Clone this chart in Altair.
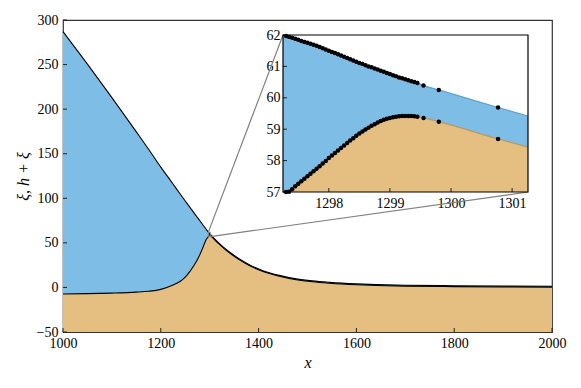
import altair as alt
import pandas as pd

# ---------------- data ----------------
x_main = [1000, 1050, 1100, 1150, 1175, 1200, 1225, 1240, 1250, 1260, 1270, 1280,
          1287, 1293, 1297.3, 1299.3, 1301.2, 1310, 1320, 1330, 1341, 1360, 1380,
          1409, 1440, 1477, 1510, 1545, 1600, 1641, 1700, 1800, 1900, 2000]
top_main = [287, 250.5, 213, 174.5, 155, 135, 116, 104.5, 97, 89.5, 82, 74.8,
            69.5, 65.2, 61.97, 60.56, 59.45, 54.5, 49.2, 44.3, 39.5, 32.2, 25.8,
            18.8, 13.8, 9.6, 7.3, 5.7, 4.0, 3.2, 2.5, 1.9, 1.5, 1.3]
bot_main = [-7.3, -7.0, -6.4, -5.3, -4.3, -2.2, 2.7, 7.0, 11.5, 18.3, 26.5, 37,
            46, 54, 57.0, 59.42, 58.45, 53.5, 48.2, 43.3, 38.5, 31.2, 24.8,
            17.8, 12.8, 8.6, 6.3, 4.7, 3.0, 2.2, 1.5, 0.9, 0.5, 0.3]

x_inset = [1297.25,
           1297.30, 1297.35, 1297.40, 1297.45, 1297.50, 1297.55, 1297.60, 1297.65,
           1297.70, 1297.75, 1297.80, 1297.85, 1297.90, 1297.95, 1298.00, 1298.05,
           1298.10, 1298.15, 1298.20, 1298.25, 1298.30, 1298.35, 1298.40, 1298.45,
           1298.50, 1298.55, 1298.60, 1298.65, 1298.70, 1298.75, 1298.80, 1298.85,
           1298.90, 1298.95, 1299.00, 1299.05, 1299.10, 1299.15, 1299.20, 1299.25,
           1299.30, 1299.35, 1299.40, 1299.45,
           1299.55, 1299.80, 1300.77, 1301.26]
top_inset = [62.01,
             61.97, 61.94, 61.91, 61.88, 61.85, 61.81, 61.78, 61.75,
             61.72, 61.69, 61.66, 61.62, 61.58, 61.54, 61.50, 61.46,
             61.43, 61.39, 61.35, 61.31, 61.27, 61.23, 61.19, 61.15,
             61.11, 61.08, 61.04, 61.00, 60.97, 60.93, 60.90, 60.86,
             60.83, 60.79, 60.76, 60.72, 60.69, 60.65, 60.62, 60.59,
             60.56, 60.53, 60.50, 60.47,
             60.39, 60.25, 59.69, 59.42]
bot_inset = [56.85,
             56.93, 57.01, 57.09, 57.18, 57.26, 57.34, 57.42, 57.50,
             57.58, 57.66, 57.74, 57.82, 57.91, 57.99, 58.08, 58.16,
             58.24, 58.32, 58.40, 58.48, 58.56, 58.64, 58.71, 58.79,
             58.86, 58.93, 58.99, 59.05, 59.11, 59.16, 59.21, 59.26,
             59.30, 59.33, 59.36, 59.38, 59.40, 59.41, 59.42, 59.42,
             59.42, 59.42, 59.41, 59.40,
             59.36, 59.24, 58.69, 58.43]
dot_inset = [0] + [1] * 47 + [0]

x_ticks = [1000, 1200, 1400, 1600, 1800, 2000]
y_ticks = [-50, 0, 50, 100, 150, 200, 250, 300]
ix_ticks = [1298, 1299, 1300, 1301]
iy_ticks = [57, 58, 59, 60, 61, 62]

X_DOMAIN = [1000, 2000]
Y_DOMAIN = [-50, 300]
IX_DOMAIN = [1297.25, 1301.26]
IY_DOMAIN = [57, 62]

# ---------------- layout / style ----------------
W, H = 489, 312
INSET_L, INSET_R, INSET_T, INSET_B = 220, 465, 15, 172
BLUE = "#7ebde5"
TAN = "#e4bf81"
BLUE_EDGE = "#5aa2d6"
TAN_EDGE = "#b89a5e"
GRAY = "#808080"
FONT = "Liberation Serif, Times New Roman, Times, serif"

main_df = pd.DataFrame({"x": x_main, "top": top_main, "bot": bot_main})
inset_df = pd.DataFrame({"x": x_inset, "top": top_inset, "bot": bot_inset, "dot": dot_inset})
box_df = pd.DataFrame({"x0": [IX_DOMAIN[0]], "x1": [IX_DOMAIN[1]],
                       "y0": [IY_DOMAIN[0]], "y1": [IY_DOMAIN[1]]})

common = dict(ticks=False, domain=False, grid=False, labelFlush=False, labelOverlap=False,
              labelFont=FONT, labelFontSize=14, labelColor="black", format="d",
              titleFont=FONT, titleColor="black", titleFontStyle="italic",
              titleFontWeight="normal", titleFontSize=16)

xs = alt.Scale(domain=X_DOMAIN, nice=False, zero=False)
ys = alt.Scale(domain=Y_DOMAIN, nice=False, zero=False)
xaxis = alt.Axis(orient="bottom", values=x_ticks, title="x", labelPadding=4,
                 titlePadding=4, **common)
yaxis = alt.Axis(orient="left", values=y_ticks, title="ξ, h + ξ", labelPadding=5,
                 titlePadding=5, **common)


def MX(f="x"):
    return alt.X(f"{f}:Q", scale=xs, axis=xaxis)


def MY(f):
    return alt.Y(f"{f}:Q", scale=ys, axis=yaxis)


base = alt.Chart(main_df)
m_orange = base.mark_area(color=TAN, interpolate="monotone").encode(
    x=MX(), y=MY("bot"), y2=alt.datum(Y_DOMAIN[0]))
m_blue = base.mark_area(color=BLUE, interpolate="monotone").encode(
    x=MX(), y=MY("bot"), y2="top:Q")
m_top = base.mark_line(color="black", strokeWidth=1.1, interpolate="monotone").encode(
    x=MX(), y=MY("top"))
m_bot = base.mark_line(color="black", strokeWidth=1.1, interpolate="monotone").encode(
    x=MX(), y=MY("bot"))
m_box = alt.Chart(box_df).mark_rect(fillOpacity=0, stroke=GRAY, strokeWidth=1).encode(
    x=MX("x0"), x2="x1:Q", y=MY("y0"), y2="y1:Q")
m_con1 = alt.Chart(box_df).mark_rule(color=GRAY, strokeWidth=1.2).encode(
    x=MX("x0"), y=MY("y1"), x2=alt.value(INSET_L), y2=alt.value(INSET_T))
m_con2 = alt.Chart(box_df).mark_rule(color=GRAY, strokeWidth=1.2).encode(
    x=MX("x1"), y=MY("y0"), x2=alt.value(INSET_R), y2=alt.value(INSET_B))
m_yt = alt.Chart(pd.DataFrame({"v": y_ticks})).mark_rule(color="#222", strokeWidth=1).encode(
    y=MY("v"), x=alt.value(0), x2=alt.value(4))
m_xt = alt.Chart(pd.DataFrame({"v": x_ticks})).mark_rule(color="#222", strokeWidth=1).encode(
    x=MX("v"), y=alt.value(H), y2=alt.value(H - 4))

main = alt.layer(m_orange, m_blue, m_top, m_bot, m_box, m_con1, m_con2, m_yt, m_xt)

# ---------------- inset ----------------
ixs = alt.Scale(domain=IX_DOMAIN, range=[INSET_L, INSET_R], clamp=True, nice=False, zero=False)
iys = alt.Scale(domain=IY_DOMAIN, range=[INSET_B, INSET_T], clamp=True, nice=False, zero=False)
ixaxis = alt.Axis(orient="bottom", offset=INSET_B - H, values=ix_ticks, title=None,
                  labelPadding=4, **common)
iyaxis = alt.Axis(orient="left", offset=-INSET_L, values=iy_ticks, title=None,
                  labelPadding=3, **common)


def IX(f="x"):
    return alt.X(f"{f}:Q", scale=ixs, axis=ixaxis)


def IY(f):
    return alt.Y(f"{f}:Q", scale=iys, axis=iyaxis)


ibase = alt.Chart(inset_df)
i_bg = alt.Chart(box_df).mark_rect(fill="white").encode(
    x=IX("x0"), x2="x1:Q", y=IY("y0"), y2="y1:Q")
i_orange = ibase.mark_area(color=TAN, interpolate="monotone").encode(
    x=IX(), y=IY("bot"), y2=alt.datum(IY_DOMAIN[0]))
i_blue = ibase.mark_area(color=BLUE, interpolate="monotone").encode(
    x=IX(), y=IY("bot"), y2="top:Q")
i_top = ibase.mark_line(color=BLUE_EDGE, strokeWidth=1.2, interpolate="monotone").encode(
    x=IX(), y=IY("top"))
i_bot = ibase.mark_line(color=TAN_EDGE, strokeWidth=1.2, interpolate="monotone").encode(
    x=IX(), y=IY("bot"))
i_dtop = ibase.transform_filter("datum.dot == 1").mark_circle(
    color="black", size=20, opacity=1).encode(x=IX(), y=IY("top"))
i_dbot = ibase.transform_filter("datum.dot == 1").mark_circle(
    color="black", size=20, opacity=1).encode(x=IX(), y=IY("bot"))
i_yt = alt.Chart(pd.DataFrame({"v": iy_ticks})).mark_rule(color="#222", strokeWidth=1).encode(
    y=IY("v"), x=alt.value(INSET_L), x2=alt.value(INSET_L + 4))
i_xt = alt.Chart(pd.DataFrame({"v": ix_ticks})).mark_rule(color="#222", strokeWidth=1).encode(
    x=IX("v"), y=alt.value(INSET_B), y2=alt.value(INSET_B - 4))
i_frame = alt.Chart(box_df).mark_rect(fillOpacity=0, stroke="black", strokeWidth=1.2).encode(
    x=IX("x0"), x2="x1:Q", y=IY("y0"), y2="y1:Q")

inset = alt.layer(i_bg, i_orange, i_blue, i_top, i_bot, i_dtop, i_dbot, i_yt, i_xt, i_frame)

chart = alt.layer(main, inset).resolve_scale(x="independent", y="independent").properties(
    width=W, height=H,
    autosize=alt.AutoSizeParams(type="none"),
    padding={"left": 55, "top": 12, "right": 20, "bottom": 40},
).configure_view(stroke="#333", strokeWidth=1.2)

chart.save("out.html", embed_options={"renderer": "svg", "actions": False})
